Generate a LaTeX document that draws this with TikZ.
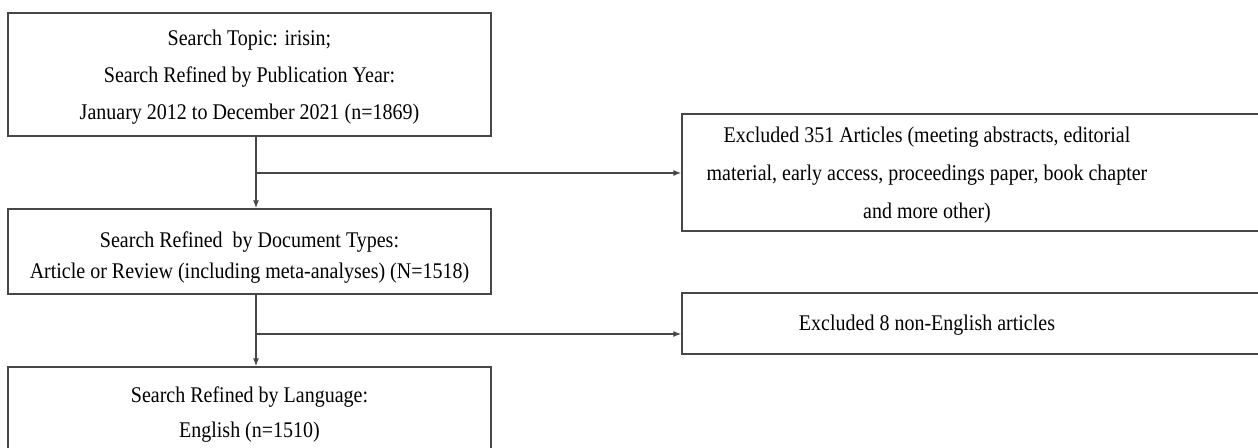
\documentclass[tikz,border=0pt]{standalone}
\usepackage{fontspec}
\usepackage{graphicx}
\setmainfont{Liberation Serif}
\usetikzlibrary{arrows.meta}
\newcommand{\ys}[1]{\scalebox{1}[1.12]{#1}}
\begin{document}
\begin{tikzpicture}[x=1pt,y=-1pt,
  line/.style={draw=black!72, line width=1.3pt},
  boxnode/.style={line, rectangle, inner sep=0pt},
  txt/.style={align=center, inner sep=0pt, text=black},
  arr/.style={line, -{Latex[length=8pt,width=6pt]}}]
\useasboundingbox (0,0) rectangle (1258,447);
\clip (0,0) rectangle (1258,447);
% boxes
\node[boxnode, minimum width=483pt, minimum height=123pt] (b1) at (249.5,74.5) {};
\node[boxnode, minimum width=483pt, minimum height=85pt] (b2) at (249.5,251.5) {};
\node[boxnode, minimum width=483pt, minimum height=97pt] (b3) at (249.5,415.5) {};
\node[boxnode, minimum width=583pt, minimum height=117pt] (e1) at (973.5,172.5) {};
\node[boxnode, minimum width=583pt, minimum height=61pt] (e2) at (973.5,323.5) {};
% texts
\node[txt, font=\fontsize{20}{37}\selectfont] (t1) at (249.5,77) {\ys{Search Topic: irisin;}\\\ys{Search Refined by Publication Year:}\\\ys{January 2012 to December 2021 (n=1869)}};
\node[txt, font=\fontsize{20}{31}\selectfont] (t2) at (249.5,258) {\ys{Search Refined\ \ by Document Types:}\\\ys{Article or Review (including meta-analyses) (N=1518)}};
\node[txt, font=\fontsize{20}{35}\selectfont] (t3) at (249.5,415) {\ys{Search Refined by Language:}\\\ys{English (n=1510)}};
\node[txt, font=\fontsize{20}{38}\selectfont] (t4) at (927,175) {\ys{Excluded 351 Articles (meeting abstracts, editorial}\\\ys{material, early access, proceedings paper, book chapter}\\\ys{and more other)}};
\node[txt, font=\fontsize{20}{24}\selectfont] (t5) at (927,325) {\ys{Excluded 8 non-English articles}};
% connectors
\coordinate (j1) at (256,173);
\coordinate (j2) at (256,334);
\draw[line] (b1.south -| j1) -- (j1);
\draw[arr] (j1) -- (b2.north -| j1);
\draw[arr] (j1) -- (e1.west |- j1);
\draw[line] (b2.south -| j2) -- (j2);
\draw[arr] (j2) -- (b3.north -| j2);
\draw[arr] (j2) -- (e2.west |- j2);
\end{tikzpicture}
\end{document}
